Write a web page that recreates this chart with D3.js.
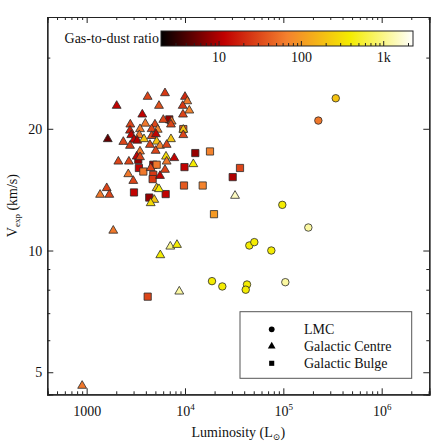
<!DOCTYPE html>
<meta charset="utf-8">
<style>
body { margin: 0; background: #fff; }
.axis path { stroke: #222; stroke-width: 1.2; }
.axis line { stroke: #222; stroke-width: 1; }
.mark { stroke: #2a2a2a; stroke-width: 0.8; }
</style>
<body>
<script src="https://d3js.org/d3.v7.min.js"></script>
<script>

// luminosity (Lsun), expansion velocity (km/s), gas-to-dust ratio
var galCentre = [
  [4170,24.0,30],[6260,24.5,25],[10000,24.0,20],[10550,23.4,60],[2020,22.8,12],
  [5440,22.8,35],[9480,22.8,25],[11060,22.2,70],[3680,21.7,12],[9540,21.7,30],
  [6020,21.05,30],[7320,20.85,60],[7200,20.5,30],[2780,20.5,30],[3950,20.6,60],
  [4950,20.5,30],[9610,19.9,200],[9610,19.3,30],[2760,19.8,18],[3490,19.97,60],
  [4580,19.97,30],[5280,19.9,70],[2840,19.3,12],[3430,19.3,60],[4580,19.2,30],
  [5070,19.4,12],[3030,18.8,12],[3270,18.7,10],[3830,18.86,200],[5150,18.6,200],
  [7200,18.86,200],[1640,18.86,5],[2360,18.57,30],[2760,18.16,25],[4400,18.26,30],
  [5570,18.16,70],[6510,18.26,30],[5030,17.65,30],[3490,17.58,60],[3230,17.08,12],
  [3490,17.02,30],[6410,17.08,300],[6510,16.6,60],[7780,16.93,12],[2100,16.6,30],
  [2690,16.6,30],[4480,16.0,30],[6260,15.84,30],[12150,16.36,400],[2650,15.45,60],
  [5570,15.3,12],[2980,14.87,30],[5150,14.27,200],[5440,14.19,400],[1600,14.27,30],
  [1370,13.74,60],[1700,13.74,30],[4870,13.35,200],[4480,13.1,300],[32270,13.66,1500],
  [1865,11.2,60],[7090,10.23,1000],[8290,10.33,400],[5610,9.74,400],[8750,7.92,1200],
  [900,4.63,60]
];
var galBulge = [
  [6920,21.1,8],[9610,19.97,40],[3350,16.76,8],[4760,16.3,8],[5150,16.3,60],
  [3400,16.0,12],[3770,15.68,60],[4760,15.39,25],[4690,15.02,25],[12730,17.42,8],
  [17960,17.58,70],[9880,16.08,12],[9770,14.48,40],[15140,14.48,70],[3030,13.92,12],
  [4330,13.52,8],[6360,13.79,12],[19720,12.3,100],[36260,16.0,30],[30560,15.19,10],
  [4175,7.69,30]
];
var lmc = [
  [341200,23.8,200],[227000,20.96,60],[97650,12.97,400],[179600,11.4,1200],
  [45100,10.29,400],[50700,10.49,400],[75500,10.0,400],[18820,8.4,400],
  [23960,8.15,400],[42730,8.24,400],[41450,8.0,400],[104800,8.35,1200]
];

var xMajor = [1e3, 1e4, 1e5, 1e6];
var yMajor = [5, 10, 20];
var yMinor = [6, 7, 8, 9, 30];
var cMajor = [10, 100, 1000];
var cMapStops = ["#000000", "#c00000", "#f4812e", "#f4ec00", "#ffffff"];

var W = 447, H = 447;
var box = {left: 47.3, right: 429.3, top: 17, bottom: 394.3};
var serif = "'Liberation Serif', 'Times New Roman', 'DejaVu Serif', serif";

var svg = d3.select("body").append("svg")
    .attr("width", W).attr("height", H);

var x = d3.scaleLog().domain([398, 3.05e6]).range([box.left, box.right]);
var y = d3.scaleLog().domain([4.41, 37.8]).range([box.bottom, box.top]);

// minor ticks on x (2..9 per decade)
var xMinor = [];
[100, 1000, 10000, 100000, 1000000].forEach(function(d) {
  for (var k = 2; k <= 9; k++) {
    var v = d * k;
    if (v > x.domain()[0] && v < x.domain()[1]) xMinor.push(v);
  }
});

// axes: major + minor, ticks pointing inward, mirrored on top/right
svg.append("g").attr("class", "axis")
    .attr("transform", "translate(0," + box.bottom + ")")
    .call(d3.axisBottom(x).tickValues(xMinor).tickSize(-3).tickFormat(""));
var xAx = svg.append("g").attr("class", "axis")
    .attr("transform", "translate(0," + box.bottom + ")")
    .call(d3.axisBottom(x).tickValues(xMajor).tickSize(-6).tickPadding(9).tickFormat(""));
xAx.selectAll(".tick").each(function(d) {
  var t = d3.select(this).append("text")
      .attr("y", 22).attr("text-anchor", "middle").style("font-size", "14px");
  if (d === 1000) { t.text("1000"); return; }
  t.append("tspan").text("10");
  t.append("tspan").attr("dy", -6).style("font-size", "9px").text(Math.round(Math.log10(d)));
});
svg.append("g").attr("class", "axis")
    .attr("transform", "translate(0," + box.top + ")")
    .call(d3.axisTop(x).tickValues(xMinor).tickSize(-3).tickFormat(""));
svg.append("g").attr("class", "axis")
    .attr("transform", "translate(0," + box.top + ")")
    .call(d3.axisTop(x).tickValues(xMajor).tickSize(-6).tickFormat(""));

svg.append("g").attr("class", "axis")
    .attr("transform", "translate(" + box.left + ",0)")
    .call(d3.axisLeft(y).tickValues(yMinor).tickSize(-3).tickFormat(""));
svg.append("g").attr("class", "axis")
    .attr("transform", "translate(" + box.left + ",0)")
    .call(d3.axisLeft(y).tickValues(yMajor).tickSize(-6).tickPadding(5).tickFormat(d3.format("d")))
    .selectAll("text").style("font-size", "14px");
svg.append("g").attr("class", "axis")
    .attr("transform", "translate(" + box.right + ",0)")
    .call(d3.axisRight(y).tickValues(yMinor).tickSize(-3).tickFormat(""));
svg.append("g").attr("class", "axis")
    .attr("transform", "translate(" + box.right + ",0)")
    .call(d3.axisRight(y).tickValues(yMajor).tickSize(-6).tickFormat(""));

// axis titles
var xt = svg.append("text")
    .attr("x", (box.left + box.right) / 2).attr("y", 437)
    .attr("text-anchor", "middle").style("font-size", "14px");
xt.append("tspan").text("Luminosity (L");
xt.append("tspan").attr("dy", 3).style("font-size", "9px").text("\u2299");
xt.append("tspan").attr("dy", -3).text(")");

var yt = svg.append("text")
    .attr("transform", "translate(17," + ((box.top + box.bottom) / 2) + ") rotate(-90)")
    .attr("text-anchor", "middle").style("font-size", "14px");
yt.append("tspan").text("V");
yt.append("tspan").attr("dy", 3).style("font-size", "9px").text("exp");
yt.append("tspan").attr("dy", -3).text(" (km/s)");

// colour scale
var cmin = 2, cmax = 2300;
var tScale = d3.scaleLog().domain([cmin, cmax]).range([0, 1]).clamp(true);
var cInterp = d3.scaleLinear().domain([0, 0.25, 0.5, 0.75, 1]).range(cMapStops);
function colour(g) { return cInterp(tScale(g)); }

// markers: squares, then triangles, then circles on top
var sym = d3.symbol();
function drawSet(data, type, size) {
  svg.append("g").selectAll("path")
    .data(data)
    .enter().append("path")
      .attr("class", "mark")
      .attr("d", sym.type(type).size(size)())
      .attr("transform", function(d) { return "translate(" + x(d[0]) + "," + y(d[1]) + ")"; })
      .attr("fill", function(d) { return colour(d[2]); });
}
drawSet(galBulge, d3.symbolSquare, 52);
drawSet(galCentre, d3.symbolTriangle, 34);
drawSet(lmc, d3.symbolCircle, 44);

// colour bar
var cb = {x0: 161, x1: 413, y0: 31, y1: 46};
var grad = svg.append("defs").append("linearGradient").attr("id", "cbar");
cMapStops.forEach(function(c, i) {
  grad.append("stop").attr("offset", (i * 25) + "%").attr("stop-color", c);
});
svg.append("rect")
    .attr("x", cb.x0).attr("y", cb.y0)
    .attr("width", cb.x1 - cb.x0).attr("height", cb.y1 - cb.y0)
    .attr("fill", "url(#cbar)").attr("stroke", "#222").attr("stroke-width", 1);

var cx = d3.scaleLog().domain([cmin, cmax]).range([cb.x0, cb.x1]);
var cMinor = [];
[1, 10, 100, 1000].forEach(function(d) {
  for (var k = 2; k <= 9; k++) {
    var v = d * k;
    if (v > cmin && v < cmax) cMinor.push(v);
  }
});
svg.append("g").attr("class", "axis")
    .attr("transform", "translate(0," + cb.y1 + ")")
    .call(d3.axisBottom(cx).tickValues(cMinor).tickSize(-3).tickFormat(""))
    .select(".domain").remove();
svg.append("g").attr("class", "axis")
    .attr("transform", "translate(0," + cb.y1 + ")")
    .call(d3.axisBottom(cx).tickValues(cMajor).tickSize(-5).tickPadding(6)
      .tickFormat(function(d) { return d === 1000 ? "1k" : String(d); }))
    .call(function(g) { g.select(".domain").remove(); })
    .selectAll("text").style("font-size", "14px");

svg.append("text")
    .attr("x", cb.x0 - 2).attr("y", 43)
    .attr("text-anchor", "end").style("font-size", "14px")
    .text("Gas-to-dust ratio");

// legend
var lg = svg.append("g");
lg.append("rect")
    .attr("x", 240).attr("y", 311.7).attr("width", 171.7).attr("height", 66.6)
    .attr("fill", "#fff").attr("stroke", "#555").attr("stroke-width", 1);
var legendItems = [
  {name: "LMC", type: d3.symbolCircle},
  {name: "Galactic Centre", type: d3.symbolTriangle},
  {name: "Galactic Bulge", type: d3.symbolSquare}
];
legendItems.forEach(function(it, i) {
  var yy = 329.3 + i * 17;
  lg.append("path")
      .attr("d", d3.symbol().type(it.type).size(26)())
      .attr("transform", "translate(271.7," + yy + ")")
      .attr("fill", "#000");
  lg.append("text")
      .attr("x", 304).attr("y", yy).attr("dy", "0.35em")
      .style("font-size", "14px").text(it.name);
});

// serif everywhere (d3 axes set sans-serif on their groups)
svg.selectAll("g").attr("font-family", null);
svg.selectAll("text").style("font-family", serif).style("fill", "#111");
// the sun symbol needs a font that has it
xt.select("tspan:nth-child(2)").style("font-family", "'DejaVu Serif', 'DejaVu Sans', serif");

</script>
</body>
